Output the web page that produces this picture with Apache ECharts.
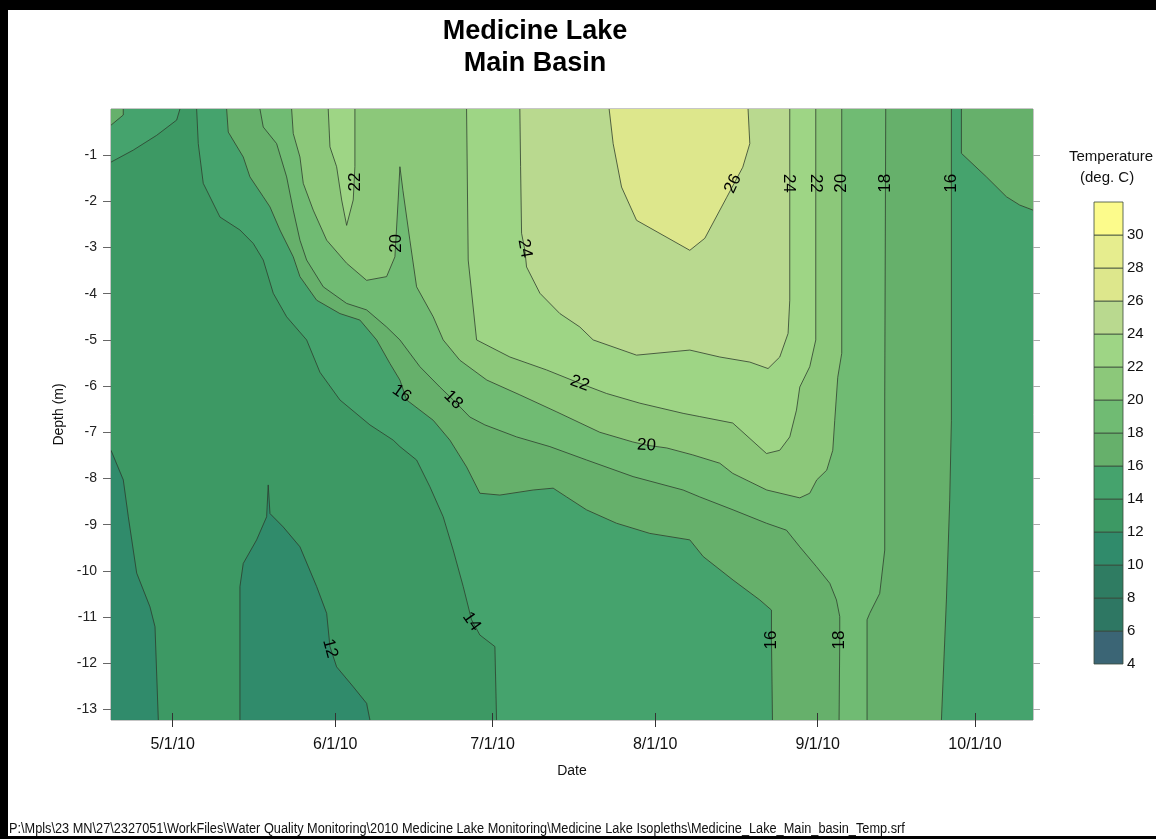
<!DOCTYPE html>
<html>
<head>
<meta charset="utf-8">
<title>Medicine Lake - Main Basin temperature isopleths</title>
<script src="https://cdn.jsdelivr.net/npm/echarts@6/dist/echarts.min.js"></script>
<style>
  html, body { margin: 0; padding: 0; background: #fff; }
  #chart { width: 1156px; height: 839px; }
</style>
</head>
<body>
<div id="chart"></div>
<script>
// x = days after 5/1/10, y = depth (m)
const xMin = -11.76, xMax = 164.05;
const yMin = -13.23, yMax = 0;

const dateTicks = [0, 31, 61, 92, 123, 153];
const dateLabels = ['5/1/10', '6/1/10', '7/1/10', '8/1/10', '9/1/10', '10/1/10'];
const depthTicks = [-1, -2, -3, -4, -5, -6, -7, -8, -9, -10, -11, -12, -13];

// colour scale (lower bound of each 2 deg band)
const bandLevels = [4, 6, 8, 10, 12, 14, 16, 18, 20, 22, 24, 26, 28, 30];
const bandColors = ['#3b6575', '#2e7763', '#2f7c62', '#308b6b', '#3d9964', '#45a36d', '#66b06b',
  '#70bb73', '#8cc87a', '#9ed585', '#b9d98f', '#dde78c', '#e6ed8e', '#fcfb8b'];
const legendTicks = [4, 6, 8, 10, 12, 14, 16, 18, 20, 22, 24, 26, 28, 30];

// isotherms, [day, depth]
const line12Left = [[-11.76, -7.39], [-9.42, -8.03], [-8.46, -8.83], [-6.86, -10.05], [-4.33, -10.78],
  [-3.37, -11.21], [-2.74, -13.23]];
const line12Mid = [[12.83, -13.23], [12.83, -10.34], [13.46, -9.84], [16.01, -9.33], [17.92, -8.83],
  [18.22, -8.14], [18.55, -8.76], [21.08, -9.05], [24.27, -9.48], [27.45, -10.34], [29.36, -10.92],
  [29.99, -11.64], [31.26, -12.08], [34.43, -12.51], [36.98, -12.87], [37.61, -13.23]];
const line14Corner = [[-11.76, -1.15], [-7.51, -0.89], [-3.05, -0.57], [0.76, -0.24], [1.39, 0]];
const line14Main = [[4.57, 0], [4.88, -0.75], [5.83, -1.61], [9.02, -2.34], [12.83, -2.62], [15.36, -2.91],
  [17.27, -3.27], [19.18, -3.99], [21.73, -4.50], [25.54, -5.00], [28.08, -5.70], [31.89, -6.30],
  [37.61, -6.84], [42.05, -7.17], [43.33, -7.31], [46.51, -7.60], [49.05, -8.18], [51.58, -8.83],
  [53.49, -9.55], [55.40, -10.34], [56.99, -11.06], [58.58, -11.39], [61.44, -11.64], [61.76, -13.23]];
const line16Corner = [[-11.76, -0.35], [-9.42, -0.13], [-9.42, 0]];
const line16Main = [[10.29, 0], [10.60, -0.50], [13.46, -1.04], [14.73, -1.47], [17.27, -1.90], [18.55, -2.12],
  [20.45, -2.62], [22.99, -3.20], [24.27, -3.63], [27.45, -4.14], [31.89, -4.43], [35.70, -4.57],
  [38.89, -5.00], [41.42, -5.51], [43.33, -5.87], [44.61, -6.30], [49.68, -6.74], [52.86, -7.17],
  [56.04, -7.75], [58.58, -8.32], [62.39, -8.36], [68.74, -8.25], [72.55, -8.21], [75.11, -8.40],
  [78.92, -8.68], [84.64, -8.97], [90.99, -9.19], [98.61, -9.33], [101.15, -9.69], [106.86, -10.20],
  [111.95, -10.63], [114.18, -10.85], [114.18, -11.50], [114.37, -13.23]];
const line16Right = [[148.49, 0], [148.49, -6.74], [148.17, -8.47], [147.54, -10.63], [146.59, -13.23]];
const line16NE = [[150.40, 0], [150.40, -0.96], [155.17, -1.47], [158.98, -1.90], [161.51, -2.08], [164.05, -2.19]];
const line18Left = [[16.64, 0], [17.27, -0.39], [19.82, -0.75], [21.73, -1.47], [22.99, -2.19], [24.27, -2.84],
  [25.54, -3.27], [28.71, -3.85], [33.17, -4.21], [36.98, -4.35], [40.79, -4.72], [43.33, -5.00],
  [47.14, -5.58], [50.95, -6.02], [53.49, -6.30], [56.67, -6.67], [59.53, -6.84], [65.57, -7.10],
  [71.92, -7.31], [78.92, -7.60], [87.80, -7.96], [97.33, -8.25], [100.51, -8.40], [106.86, -8.68],
  [113.23, -8.97], [117.04, -9.12], [119.58, -9.48], [122.76, -9.91], [125.30, -10.27], [126.57, -10.63],
  [127.20, -10.99], [127.20, -11.50], [127.07, -13.23]];
const line18Right = [[135.97, 0], [135.78, -6.30], [135.78, -9.55], [134.82, -10.49], [132.92, -10.92],
  [132.41, -11.06], [132.41, -13.23]];
const line20 = [[22.68, 0], [22.99, -0.53], [24.27, -1.04], [24.90, -1.61], [26.80, -2.19], [29.36, -2.84],
  [33.17, -3.34], [36.98, -3.71], [40.79, -3.63], [42.38, -3.20], [43.00, -1.97], [43.33, -1.25],
  [43.90, -1.76], [45.23, -2.84], [46.51, -3.85], [49.68, -4.50], [51.58, -5.00], [54.76, -5.44],
  [59.91, -5.87], [66.20, -6.19], [73.26, -6.56], [81.45, -7.00], [87.74, -7.21], [90.41, -7.28],
  [94.22, -7.34], [99.18, -7.49], [104.33, -7.67], [106.80, -7.89], [113.28, -8.25], [119.58, -8.42],
  [121.48, -8.32], [122.82, -8.03], [124.72, -7.82], [125.87, -7.39], [126.25, -6.74], [126.82, -5.81],
  [127.58, -5.29], [127.58, 0]];
const line22Pocket = [[29.66, 0], [29.99, -0.82], [31.26, -1.25], [32.22, -1.97], [33.17, -2.52],
  [34.43, -1.97], [34.75, -1.25], [34.75, 0]];
const line22Main = [[56.04, 0], [56.35, -3.27], [57.95, -5.00], [64.30, -5.37], [71.29, -5.65], [77.64, -5.94],
  [82.73, -6.16], [89.08, -6.37], [97.33, -6.59], [100.51, -6.66], [106.80, -6.80], [113.23, -7.46],
  [115.76, -7.39], [117.67, -7.10], [118.95, -6.52], [119.58, -6.02], [121.48, -5.58], [122.63, -5.00],
  [122.63, 0]];
const line24 = [[66.20, 0], [66.34, -1.25], [66.53, -2.69], [67.16, -3.06], [67.48, -3.42], [70.03, -3.99],
  [73.83, -4.43], [77.64, -4.72], [80.18, -5.00], [88.45, -5.33], [98.61, -5.22], [104.33, -5.37],
  [110.05, -5.48], [113.53, -5.62], [115.76, -5.37], [117.35, -4.86], [117.67, -4.14], [117.67, 0]];
const line26 = [[83.23, 0], [83.99, -0.75], [85.59, -1.69], [88.45, -2.41], [98.61, -3.06], [101.47, -2.80],
  [105.66, -1.91], [108.71, -1.26], [110.05, -0.75], [109.72, 0]];

// contour labels: [day, depth, text, angle in degrees]
const contourLabels = [
  [34.75, -1.58, '22', 90], [42.70, -2.91, '20', 90], [67.16, -3.02, '24', -80],
  [106.86, -1.62, '26', 65], [117.45, -1.61, '24', -90], [122.63, -1.61, '22', -90],
  [127.55, -1.61, '20', 90], [135.95, -1.61, '18', 90], [148.49, -1.61, '16', 90],
  [43.65, -6.16, '16', -35], [53.49, -6.30, '18', -45], [77.64, -5.94, '22', -20],
  [90.35, -7.28, '20', -3], [57.0, -11.10, '14', -55], [29.99, -11.68, '12', -75],
  [114.18, -11.50, '16', 90], [127.2, -11.50, '18', 90]
];

const colorOf = (lvl) => bandColors[bandLevels.indexOf(lvl)];

// filled areas, painted in this order (each one is "warmer than" its level)
const regions = [
  { level: 12, pts: [[xMin, yMax], [xMin, yMin], [xMax, yMin], [xMax, yMax]] },
  { level: 10, pts: [...line12Left, [xMin, yMin]] },
  { level: 10, pts: line12Mid },
  { level: 14, pts: [...line14Corner, [xMin, yMax]] },
  { level: 14, pts: [...line14Main, [xMax, yMin], [xMax, yMax]] },
  { level: 16, pts: [...line16Corner, [xMin, yMax]] },
  { level: 16, pts: [...line16Main, ...line16Right.slice().reverse()] },
  { level: 16, pts: [...line16NE, [xMax, yMax]] },
  { level: 18, pts: [...line18Left, ...line18Right.slice().reverse()] },
  { level: 20, pts: line20 },
  { level: 22, pts: line22Pocket },
  { level: 22, pts: line22Main },
  { level: 24, pts: line24 },
  { level: 26, pts: line26 }
];

const contourLines = [line12Left, line12Mid, line14Corner, line14Main, line16Corner, line16Main,
  line16Right, line16NE, line18Left, line18Right, line20, line22Pocket, line22Main, line24, line26];

const FONT = '"Liberation Sans", Arial, sans-serif';
const plotRect = { left: 111, right: 123, top: 109, bottom: 119 };
const noLine = { show: false, onZero: false };

const chart = echarts.init(document.getElementById('chart'), null, { renderer: 'canvas' });

chart.setOption({
  backgroundColor: '#ffffff',
  animation: false,
  title: {
    text: 'Medicine Lake\nMain Basin',
    left: 530,
    top: 11,
    textAlign: 'center',
    textStyle: { fontFamily: FONT, fontSize: 27, fontWeight: 'bold', color: '#000', lineHeight: 32 }
  },
  grid: [
    // 0: the contour plot (ticks only), 1: colour scale, 2: same rect as 0, carries the labels
    { ...plotRect, show: true, borderColor: '#8c8c8c', borderWidth: 1 },
    { left: 1094, top: 202, width: 29, height: 462, show: false },
    { ...plotRect, show: false }
  ],
  xAxis: [
    {
      // shifted up so the ticks straddle the bottom edge
      type: 'value', gridIndex: 0, min: xMin, max: xMax, offset: -7, z: 10,
      splitLine: { show: false }, axisLine: noLine,
      axisTick: { show: true, length: 14, customValues: dateTicks, lineStyle: { color: '#333' } },
      axisLabel: { show: false, customValues: dateTicks }
    },
    { type: 'value', gridIndex: 1, min: 0, max: 1, show: false, axisLine: noLine },
    {
      type: 'value', gridIndex: 2, min: xMin, max: xMax,
      name: 'Date', nameLocation: 'middle', nameGap: 44,
      nameTextStyle: { fontFamily: FONT, fontSize: 14, color: '#111' },
      splitLine: { show: false }, axisLine: noLine, axisTick: { show: false },
      axisLabel: {
        customValues: dateTicks, margin: 17, fontFamily: FONT, fontSize: 16, color: '#111',
        formatter: (v) => dateLabels[dateTicks.indexOf(v)]
      }
    }
  ],
  yAxis: [
    {
      type: 'value', gridIndex: 0, min: yMin, max: yMax, position: 'left',
      splitLine: { show: false }, axisLine: noLine,
      axisTick: { show: true, length: 8, customValues: depthTicks, lineStyle: { color: '#666' } },
      axisLabel: { show: false, customValues: depthTicks }
    },
    {
      type: 'value', gridIndex: 0, min: yMin, max: yMax, position: 'right',
      splitLine: { show: false }, axisLine: noLine,
      axisTick: { show: true, length: 7, customValues: depthTicks, lineStyle: { color: '#aaa' } },
      axisLabel: { show: false, customValues: depthTicks }
    },
    {
      type: 'value', gridIndex: 1, min: 4, max: 32, position: 'right',
      splitLine: { show: false }, axisLine: noLine, axisTick: { show: false },
      axisLabel: { customValues: legendTicks, margin: 4, fontFamily: FONT, fontSize: 15, color: '#111' }
    },
    {
      type: 'value', gridIndex: 2, min: yMin, max: yMax, position: 'left',
      name: 'Depth (m)', nameLocation: 'middle', nameGap: 43, nameRotate: 90,
      nameTextStyle: { fontFamily: FONT, fontSize: 14, color: '#111' },
      splitLine: { show: false }, axisLine: noLine, axisTick: { show: false },
      axisLabel: { customValues: depthTicks, margin: 14, fontFamily: FONT, fontSize: 14, color: '#222' }
    }
  ],
  graphic: [
    { type: 'rect', left: 0, top: 0, shape: { width: 1156, height: 10 }, style: { fill: '#000' }, z: 100 },
    { type: 'rect', left: 0, top: 0, shape: { width: 8, height: 839 }, style: { fill: '#000' }, z: 100 },
    { type: 'rect', left: 0, top: 836, shape: { width: 1156, height: 3 }, style: { fill: '#000' }, z: 100 },
    {
      type: 'text', left: 1069, top: 149, z: 100,
      style: { text: 'Temperature', font: '15px ' + FONT, fill: '#111' }
    },
    {
      type: 'text', left: 1080, top: 170, z: 100,
      style: { text: '(deg. C)', font: '15px ' + FONT, fill: '#111' }
    },
    {
      type: 'text', x: 9, y: 829, scaleX: 0.91, z: 100,
      style: {
        text: 'P:\\Mpls\\23 MN\\27\\2327051\\WorkFiles\\Water Quality Monitoring\\2010 Medicine Lake Monitoring\\Medicine Lake Isopleths\\Medicine_Lake_Main_basin_Temp.srf',
        font: '14px ' + FONT, fill: '#111', textVerticalAlign: 'middle', verticalAlign: 'middle'
      }
    }
  ],
  series: [
    {
      type: 'custom', name: 'bands', xAxisIndex: 0, yAxisIndex: 0, silent: true, clip: true, z: 1,
      data: regions.map((r, i) => [i]),
      renderItem: (params, api) => {
        const r = regions[params.dataIndex];
        return {
          type: 'polygon',
          shape: { points: r.pts.map((p) => api.coord(p)) },
          style: { fill: colorOf(r.level), stroke: colorOf(r.level), lineWidth: 0.5 }
        };
      }
    },
    {
      type: 'custom', name: 'isotherms', xAxisIndex: 0, yAxisIndex: 0, silent: true, clip: true, z: 2,
      data: contourLines.map((l, i) => [i]),
      renderItem: (params, api) => ({
        type: 'polyline',
        shape: { points: contourLines[params.dataIndex].map((p) => api.coord(p)) },
        style: { stroke: '#2d3d2d', lineWidth: 0.8, fill: null }
      })
    },
    {
      type: 'custom', name: 'labels', xAxisIndex: 0, yAxisIndex: 0, silent: true, z: 3,
      data: contourLabels.map((l, i) => [i]),
      renderItem: (params, api) => {
        const [d, z, txt, ang] = contourLabels[params.dataIndex];
        const p = api.coord([d, z]);
        return {
          type: 'text', x: p[0], y: p[1], rotation: ang * Math.PI / 180,
          style: {
            text: txt, font: '17px ' + FONT, fill: '#000',
            align: 'center', verticalAlign: 'middle', textAlign: 'center', textVerticalAlign: 'middle'
          }
        };
      }
    },
    {
      type: 'custom', name: 'scale', xAxisIndex: 1, yAxisIndex: 2, silent: true, z: 2,
      data: bandLevels.map((b, i) => [i]),
      renderItem: (params, api) => {
        const lo = bandLevels[params.dataIndex];
        const a = api.coord([0, lo + 2]);
        const b = api.coord([1, lo]);
        return {
          type: 'rect',
          shape: { x: a[0], y: a[1], width: b[0] - a[0], height: b[1] - a[1] },
          style: { fill: bandColors[params.dataIndex], stroke: '#3a4a3a', lineWidth: 0.8 }
        };
      }
    }
  ]
});
</script>
</body>
</html>
